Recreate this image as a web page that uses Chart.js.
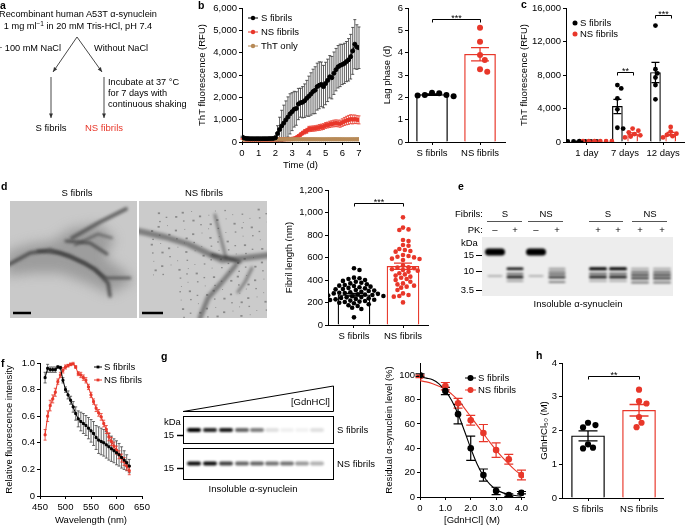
<!DOCTYPE html>
<html><head><meta charset="utf-8">
<script src="https://cdn.jsdelivr.net/npm/chart.js@4.4.1/dist/chart.umd.min.js"></script>
<style>
body{margin:0;background:#fff;}
#root{position:relative;width:685px;height:525px;overflow:hidden;background:#fff;font-family:"Liberation Sans",Arial,sans-serif;color:#000;}
.t{position:absolute;white-space:nowrap;line-height:1;font-size:9.5px;}
canvas{position:absolute;}
</style></head><body><div id="root"></div>
<script>
// ---------------- DATA ----------------
// b (left): ThT kinetics
const TIME=[0,0.125,0.25,0.375,0.5,0.625,0.75,0.875,1,1.125,1.25,1.375,1.5,1.625,1.75,1.875,2,2.125,2.25,2.375,2.5,2.625,2.75,2.875,3,3.125,3.25,3.375,3.5,3.625,3.75,3.875,4,4.125,4.25,4.375,4.5,4.625,4.75,4.875,5,5.125,5.25,5.375,5.5,5.625,5.75,5.875,6,6.125,6.25,6.375,6.5,6.625,6.75,6.875,7];
const S_RFU=[230,180,160,155,150,150,148,150,150,148,150,150,150,152,155,160,
 190,380,560,720,850,990,1120,1260,1360,1470,1500,1700,1760,1780,1850,1960,
 2050,2150,2260,2320,2480,2540,2580,2480,2620,2760,2920,2880,3080,3240,3370,3430,
 3470,3520,3600,3680,3820,4080,4380,4250,4220];
const S_RFU_ERR=[30,30,25,20,20,20,20,20,20,20,20,20,20,20,20,25,
 80,350,550,700,800,850,900,900,850,800,750,700,650,700,750,800,
 900,950,1000,1050,1050,1050,1000,950,950,950,950,950,950,950,950,950,
 900,900,900,950,1000,1050,1100,1000,930];
const NS_RFU=[140,120,110,105,105,105,105,105,105,105,105,105,105,105,105,105,
 110,115,118,120,122,125,128,130,140,160,200,260,330,400,460,500,
 580,590,600,610,630,650,670,690,740,760,790,810,830,840,830,820,
 870,920,960,990,1020,1010,1020,1000,990];
const NS_RFU_ERR=[20,15,10,10,10,10,10,10,10,10,10,10,10,10,10,10,
 10,10,10,10,10,10,15,15,20,30,40,50,70,80,100,110,
 120,120,120,120,120,130,130,130,130,130,140,140,150,150,150,160,
 170,180,190,200,200,200,190,180,180];
const THT_RFU=[125,122,121,120,120,120,120,120,120,120,120,120,120,120,120,120,
 120,120,120,120,120,120,120,120,120,121,121,121,121,121,121,121,
 121,121,121,121,121,121,121,121,122,122,122,122,122,122,122,122,
 122,122,122,122,122,122,122,122,122];
const B1_XTICKS=[0,1,2,3,4,5,6,7];
const B1_YTICKS=[0,1000,2000,3000,4000,5000,6000];
const B1_YLABELS=['0','1,000','2,000','3,000','4,000','5,000','6,000'];
// b (right): lag phase
const GROUPS=['S fibrils','NS fibrils'];
const LAG_MEAN=[2.12,3.93];
const LAG_SEM=[0.03,0.3];
const LAG_S=[2.08,2.2,2.1,2.18,2.05,2.1];
const LAG_NS=[5.12,4.49,3.9,3.67,3.26,3.15];
const LAG_YTICKS=[0,1,2,3,4,5,6];
// c: ThT at days
const C_CATS=['1 day','7 days','12 days'];
const C_S_MEAN=[80,4250,8300];
const C_S_SEM=[15,850,1200];
const C_NS_MEAN=[100,950,950];
const C_NS_SEM=[10,150,200];
const C_S_DOTS=[[70,80,90,75,85,80],[6400,6800,5200,3900,1700,1600],[13900,8700,8200,7700,6800,5100]];
const C_NS_DOTS=[[90,100,110,100,95,105],[1600,1350,1150,950,800,650,550],[1800,1250,1000,850,700,550]];
const C_YTICKS=[0,4000,8000,12000,16000];
const C_YLABELS=['0','4,000','8,000','12,000','16,000'];
// d: fibril length
const D_MEAN=[268,522];
const D_SEM=[12,28];
const D_S=[504,489,421,415,409,400,392,385,376,370,362,356,350,347,341,335,330,326,320,317,311,306,302,296,291,287,284,281,277,273,270,267,262,258,255,252,248,246,241,237,232,228,225,222,217,213,208,204,198,193,184,176,169,154,142,68];
const D_NS=[957,866,850,844,755,746,711,705,676,667,658,652,622,613,607,601,590,587,578,530,513,510,504,495,489,483,474,460,450,439,430,420,409,400,385,370,361,350,341,332,311,281,267,258,252,201];
const D_YTICKS=[0,200,400,600,800,1000,1200];
const D_YLABELS=['0','200','400','600','800','1,000','1,200'];
// f: emission spectra
const F_WL=[460,465,470,475,480,485,490,495,500,505,510,515,520,525,530,535,540,545,550,555,560,565,570,575,580,585,590,595,600,605,610,615,620,625];
const F_S=[0.89,0.96,0.95,0.95,0.95,0.97,0.965,0.87,0.80,0.76,0.72,0.67,0.62,0.58,0.56,0.545,0.53,0.51,0.49,0.47,0.44,0.42,0.41,0.40,0.385,0.37,0.355,0.34,0.325,0.31,0.29,0.27,0.25,0.225];
const F_S_ERR=[0.04,0.03,0.02,0.02,0.02,0.01,0.01,0.02,0.02,0.03,0.03,0.04,0.05,0.06,0.07,0.075,0.075,0.08,0.085,0.09,0.09,0.1,0.1,0.1,0.1,0.1,0.095,0.09,0.09,0.085,0.08,0.07,0.06,0.05];
const F_NS=[0.46,0.60,0.68,0.73,0.78,0.86,0.91,0.945,0.97,0.98,0.99,0.995,0.97,0.92,0.91,0.89,0.87,0.82,0.76,0.71,0.66,0.625,0.595,0.545,0.50,0.445,0.41,0.375,0.345,0.31,0.285,0.26,0.225,0.19];
const F_NS_ERR=[0.04,0.04,0.04,0.03,0.03,0.02,0.02,0.02,0.015,0.01,0.01,0.01,0.01,0.015,0.02,0.02,0.02,0.02,0.02,0.02,0.025,0.025,0.025,0.025,0.03,0.03,0.03,0.03,0.03,0.03,0.03,0.03,0.03,0.03];
const F_XTICKS=[450,500,550,600,650];
const F_YTICKS=[0,0.2,0.4,0.6,0.8,1.0];
const F_YLABELS=['0','0.2','0.4','0.6','0.8','1.0'];
// g: GdnHCl denaturation
const G_CONC=[0,1,1.5,2,2.5,3,3.5,4];
const G_S=[100,87,68,40,18,5,1.5,3.5];
const G_S_ERR=[1,3,8,10,5,3,1,1];
const G_NS=[99,91,77,63,52.5,38.5,31,18];
const G_NS_ERR=[1,3,4,4,7,6,4,4];
const G_FIT_X=[0,0.25,0.5,0.75,1,1.25,1.5,1.75,2,2.25,2.5,2.75,3,3.25,3.5,3.75,4];
const G_FIT_S=[98.6,97.6,96.2,92.8,87.1,79.3,68.1,54.4,40.0,27.1,17.3,10.6,6.2,3.6,2.1,1.2,0.7];
const G_FIT_NS=[95.5,94.5,93.0,91.0,88.5,84.5,79.5,73.0,66.0,59.0,52.0,45.0,38.5,32.5,27.0,22.0,18.0];
const G_XTICKS=[0,1,2,3,4];
const G_XLABELS=['0','1.0','2.0','3.0','4.0'];
const G_YTICKS=[0,20,40,60,80,100];
// h: GdnHCl50
const H_MEAN=[1.84,2.6];
const H_SEM=[0.15,0.17];
const H_S=[2.09,2.23,2.16,1.47,1.59,1.49];
const H_NS=[3.21,2.8,2.87,2.1,2.23,2.4];
const H_YTICKS=[0,1,2,3,4];
// gels (relative band intensities)
const GEL_G_S=[1,0.85,0.9,0.6,0.5,0.12,0.06,0.05,0.12];
const GEL_G_NS=[0.95,0.95,0.75,0.6,0.6,0.55,0.55,0.4,0.3];

// ---------------- HELPERS ----------------
const RED='#e8372a', BLK='#000', BROWN='#b78a57';
const root=document.getElementById('root');
Chart.defaults.font.family='"Liberation Sans", Arial, sans-serif';
Chart.defaults.font.size=9.5;
Chart.defaults.color='#000';

function T(x,y,s,o={}){
  const el=document.createElement('div'); el.className='t'; el.innerHTML=s;
  const ax=o.a==='c'?'-50%':o.a==='r'?'-100%':'0';
  el.style.left=x+'px'; el.style.top=y+'px';
  el.style.transform=`translate(${ax},-50%)`;
  if(o.size) el.style.fontSize=o.size+'px';
  if(o.bold) el.style.fontWeight='bold';
  if(o.color) el.style.color=o.color;
  root.appendChild(el);
}
const deco=document.createElement('canvas'); deco.width=685; deco.height=525;
deco.style.cssText='left:0;top:0;width:685px;height:525px';
root.appendChild(deco);
const d=deco.getContext('2d');

const PAD={left:2,top:8,right:12,bottom:2};
function mkCanvas(A,yW,xH){
  const w=Math.round(A.r-A.l+yW+PAD.left+PAD.right), h=Math.round(A.b-A.t+xH+PAD.top+PAD.bottom);
  const c=document.createElement('canvas'); c.width=w; c.height=h;
  c.style.cssText=`left:${A.l-yW-PAD.left}px;top:${A.t-PAD.top}px;width:${w}px;height:${h}px`;
  root.appendChild(c); return c;
}
function yAxis(min,max,ticks,labels,title,yW){
  return {type:'linear',min,max,position:'left',
    afterFit(s){s.width=yW;},
    afterBuildTicks(s){s.ticks=ticks.map(v=>({value:v}));},
    ticks:{callback:(v,i)=>labels?labels[i]:String(ticks[i]),padding:2,color:'#000',autoSkip:false},
    grid:{drawOnChartArea:false,drawTicks:true,tickLength:3,color:'#000',lineWidth:1,offset:false},
    border:{display:true,color:'#000',width:1},
    title:{display:!!title,text:title,color:'#000',padding:0}};
}
function xAxis(min,max,ticks,labels,title,xH){
  return {type:'linear',min,max,position:'bottom',offset:false,
    afterFit(s){s.height=xH;},
    afterBuildTicks(s){s.ticks=ticks.map(v=>({value:v}));},
    ticks:{callback:(v,i)=>labels?labels[i]:String(ticks[i]),padding:3,color:'#000',autoSkip:false,maxRotation:0,minRotation:0},
    grid:{drawOnChartArea:false,drawTicks:true,tickLength:3,color:'#000',lineWidth:1,offset:false},
    border:{display:true,color:'#000',width:1},
    title:{display:!!title,text:title,color:'#000',padding:0}};
}
function opts(x,y){
  return {responsive:false,animation:false,events:[],
    layout:{padding:PAD,autoPadding:false},
    plugins:{legend:{display:false},tooltip:{enabled:false}},
    scales:{x,y}};
}
function drawErr(chart,behind){
  const ctx=chart.ctx, ys=chart.scales.y;
  chart.data.datasets.forEach((ds,i)=>{
    if(!ds.errors||!!ds.errBehind!==behind) return;
    const meta=chart.getDatasetMeta(i);
    ctx.save(); ctx.lineWidth=ds.errWidth||1;
    meta.data.forEach((el,j)=>{
      const e=ds.errors[j]; if(!e) return;
      const v=ds.data[j].y, x=el.x;
      const y1=ys.getPixelForValue(v+e), y2=ys.getPixelForValue(v-e), c=(ds.capW||4)/2;
      ctx.strokeStyle=Array.isArray(ds.errColor)?ds.errColor[j]:(ds.errColor||ds.borderColor);
      ctx.beginPath(); ctx.moveTo(x,y1); ctx.lineTo(x,y2);
      ctx.moveTo(x-c,y1); ctx.lineTo(x+c,y1); ctx.moveTo(x-c,y2); ctx.lineTo(x+c,y2);
      ctx.stroke();
    });
    ctx.restore();
  });
}
const errPlugin={id:'errbars',beforeDatasetsDraw(c){drawErr(c,true);},afterDatasetsDraw(c){drawErr(c,false);}};
function sigPlugin(items){
  return {id:'sig',afterDatasetsDraw(chart){
    const ctx=chart.ctx, xs=chart.scales.x, ys=chart.scales.y;
    items.forEach(([x1,x2,y,lab])=>{
      const a=Math.round(xs.getPixelForValue(x1))+0.5, b=Math.round(xs.getPixelForValue(x2))+0.5, p=Math.round(ys.getPixelForValue(y))+0.5;
      ctx.save(); ctx.strokeStyle='#000'; ctx.lineWidth=1;
      ctx.beginPath(); ctx.moveTo(a,p+3); ctx.lineTo(a,p); ctx.lineTo(b,p); ctx.lineTo(b,p+3); ctx.stroke();
      ctx.fillStyle='#000'; ctx.font='9px "Liberation Sans", Arial'; ctx.textAlign='center'; ctx.textBaseline='alphabetic';
      ctx.fillText(lab,(a+b)/2,p+1);
      ctx.restore();
    });
  }};
}
// beeswarm layout for dot overlays
function swarm(vals,cx,pxX,pxY,r){
  const idx=vals.map((v,i)=>i).sort((a,b)=>vals[b]-vals[a]);
  const placed=[], out=new Array(vals.length);
  for(const i of idx){
    const py=vals[i]*pxY; let best=0;
    for(let k=0;k<80;k++){
      const off=(k===0?0:(k%2?1:-1)*Math.ceil(k/2))*r*0.8;
      if(placed.every(p=>(p[0]-off)**2+(p[1]-py)**2>=(1.9*r)**2)){best=off;break;}
    }
    placed.push([best,py]); out[i]=cx+best/pxX;
  }
  return out;
}
function dots(vals,cx,pxX,pxY,r){const xs=swarm(vals,cx,pxX,pxY,r);return vals.map((v,i)=>({x:xs[i],y:v}));}
function xy(xs,ys){return xs.map((x,i)=>({x,y:ys[i]}));}

// ---------------- CHART b (kinetics) ----------------
{
  const A={l:242,t:8,r:359,b:142}, yW=45, xH=29;
  new Chart(mkCanvas(A,yW,xH),{type:'line',
    data:{datasets:[
      {data:xy(TIME,S_RFU),borderColor:BLK,backgroundColor:BLK,pointRadius:2,borderWidth:1,errors:S_RFU_ERR,errBehind:true,errColor:'#333',errWidth:0.8,capW:3},
      {data:xy(TIME,THT_RFU),borderColor:BROWN,backgroundColor:BROWN,pointRadius:1.8,borderWidth:1},
      {data:xy(TIME,NS_RFU),borderColor:RED,backgroundColor:RED,pointRadius:1.8,borderWidth:1,errors:NS_RFU_ERR,errBehind:true,errColor:RED,errWidth:0.8,capW:3},
    ]},
    options:opts(xAxis(0,7,B1_XTICKS,null,'Time (d)',xH),yAxis(0,6000,B1_YTICKS,B1_YLABELS,'ThT fluorescence (RFU)',yW)),
    plugins:[errPlugin]});
}
// ---------------- CHART b (lag phase) ----------------
{
  const A={l:408,t:8,r:505,b:142}, yW=26, xH=20, min=-0.5, max=1.52;
  const pxX=(A.r-A.l)/(max-min), pxY=(A.b-A.t)/6;
  const pts=[...dots(LAG_S,0,pxX,pxY,3),...dots(LAG_NS,1,pxX,pxY,3)];
  const cols=[...LAG_S.map(()=>BLK),...LAG_NS.map(()=>RED)];
  new Chart(mkCanvas(A,yW,xH),{type:'bar',
    data:{datasets:[
      {type:'scatter',data:pts,pointRadius:3,backgroundColor:cols,borderWidth:0},
      {type:'bar',data:xy([0,1],LAG_MEAN),backgroundColor:'#fff',borderColor:[BLK,RED],borderWidth:1.3,barThickness:31,grouped:false,errors:LAG_SEM,errColor:[BLK,RED],errWidth:1.3,capW:18},
    ]},
    options:opts(xAxis(min,max,[0,1],GROUPS,'',xH),yAxis(0,6,LAG_YTICKS,null,'Lag phase (d)',yW)),
    plugins:[errPlugin,sigPlugin([[0,1,5.5,'***']])]});
}
// ---------------- CHART c ----------------
{
  const A={l:566,t:8,r:684,b:142}, yW=47, xH=21, min=-0.55, max=2.55;
  const pxX=(A.r-A.l)/(max-min), pxY=(A.b-A.t)/16000;
  let pts=[],cols=[];
  C_S_DOTS.forEach((arr,k)=>{pts.push(...dots(arr,k-0.2,pxX,pxY,2.4));cols.push(...arr.map(()=>BLK));});
  C_NS_DOTS.forEach((arr,k)=>{pts.push(...dots(arr,k+0.2,pxX,pxY,2.4));cols.push(...arr.map(()=>RED));});
  new Chart(mkCanvas(A,yW,xH),{type:'bar',
    data:{datasets:[
      {type:'scatter',data:pts,pointRadius:2.4,backgroundColor:cols,borderWidth:0},
      {type:'bar',data:xy([-0.2,0.8,1.8],C_S_MEAN),backgroundColor:'#fff',borderColor:BLK,borderWidth:1.2,barThickness:10,grouped:false,errors:C_S_SEM,errColor:BLK,errWidth:1.2,capW:8},
      {type:'bar',data:xy([0.2,1.2,2.2],C_NS_MEAN),backgroundColor:'#fff',borderColor:RED,borderWidth:1.2,barThickness:10,grouped:false,errors:C_NS_SEM,errColor:RED,errWidth:1.2,capW:8},
    ]},
    options:opts(xAxis(min,max,[0,1,2],C_CATS,'',xH),yAxis(0,16000,C_YTICKS,C_YLABELS,'ThT fluorescence (RFU)',yW)),
    plugins:[errPlugin,sigPlugin([[0.8,1.2,8300,'**'],[1.8,2.2,15200,'***']])]});
}
// ---------------- CHART d ----------------
{
  const A={l:328,t:190,r:428,b:325}, yW=44, xH=20, min=-0.53, max=1.51;
  const pxX=(A.r-A.l)/(max-min), pxY=(A.b-A.t)/1200;
  const pts=[...dots(D_S,0,pxX,pxY,2.3),...dots(D_NS,1,pxX,pxY,2.3)];
  const cols=[...D_S.map(()=>BLK),...D_NS.map(()=>RED)];
  new Chart(mkCanvas(A,yW,xH),{type:'bar',
    data:{datasets:[
      {type:'scatter',data:pts,pointRadius:2.3,backgroundColor:cols,borderWidth:0},
      {type:'bar',data:xy([0,1],D_MEAN),backgroundColor:'#fff',borderColor:[BLK,RED],borderWidth:1.3,barThickness:32,grouped:false,errors:D_SEM,errColor:[BLK,RED],errWidth:1.3,capW:18},
    ]},
    options:opts(xAxis(min,max,[0,1],GROUPS,'',xH),yAxis(0,1200,D_YTICKS,D_YLABELS,'Fibril length (nm)',yW)),
    plugins:[errPlugin,sigPlugin([[0,1,1085,'***']])]});
}
// ---------------- CHART f ----------------
{
  const A={l:40,t:363,r:142,b:496}, yW=36, xH=30;
  new Chart(mkCanvas(A,yW,xH),{type:'scatter',
    data:{datasets:[
      {data:xy(F_WL,F_S),showLine:true,borderColor:BLK,backgroundColor:BLK,pointStyle:'rect',pointRadius:1.4,borderWidth:1,errors:F_S_ERR,errBehind:true,errColor:'#444',errWidth:0.8,capW:3},
      {data:xy(F_WL,F_NS),showLine:true,borderColor:RED,backgroundColor:RED,pointStyle:'rect',pointRadius:1.4,borderWidth:1,errors:F_NS_ERR,errBehind:true,errColor:RED,errWidth:0.8,capW:3},
    ]},
    options:opts(xAxis(450,650,F_XTICKS,null,'Wavelength (nm)',xH),yAxis(0,1,F_YTICKS,F_YLABELS,'Relative fluorescence intensity',yW)),
    plugins:[errPlugin]});
}
// ---------------- CHART g ----------------
{
  const A={l:420,t:363,r:523.5,b:497}, yW=36, xH=29;
  new Chart(mkCanvas(A,yW,xH),{type:'scatter',
    data:{datasets:[
      {data:xy(G_CONC,G_S),pointRadius:3.3,backgroundColor:BLK,borderWidth:0,errors:G_S_ERR,errBehind:true,errColor:BLK,errWidth:1.2,capW:9},
      {data:xy(G_CONC,G_NS),pointRadius:3.3,backgroundColor:RED,borderWidth:0,errors:G_NS_ERR,errBehind:true,errColor:RED,errWidth:1.2,capW:9},
      {data:xy(G_FIT_X,G_FIT_S),showLine:true,pointRadius:0,borderColor:BLK,borderWidth:1.1,tension:0.4},
      {data:xy(G_FIT_X,G_FIT_NS),showLine:true,pointRadius:0,borderColor:RED,borderWidth:1.1,tension:0.4},
    ]},
    options:opts(xAxis(0,4.1,G_XTICKS,G_XLABELS,'[GdnHCl] (M)',xH),yAxis(0,110,G_YTICKS,null,'Residual α-synuclein level (%)',yW)),
    plugins:[errPlugin]});
}
// ---------------- CHART h ----------------
{
  const A={l:562,t:363,r:663,b:498}, yW=23, xH=20, min=-0.51, max=1.47;
  const pxX=(A.r-A.l)/(max-min), pxY=(A.b-A.t)/4;
  const pts=[...dots(H_S,0,pxX,pxY,3.1),...dots(H_NS,1,pxX,pxY,3.1)];
  const cols=[...H_S.map(()=>BLK),...H_NS.map(()=>RED)];
  new Chart(mkCanvas(A,yW,xH),{type:'bar',
    data:{datasets:[
      {type:'scatter',data:pts,pointRadius:3.1,backgroundColor:cols,borderWidth:0},
      {type:'bar',data:xy([0,1],H_MEAN),backgroundColor:'#fff',borderColor:[BLK,RED],borderWidth:1.3,barThickness:33,grouped:false,errors:H_SEM,errColor:[BLK,RED],errWidth:1.3,capW:19},
    ]},
    options:opts(xAxis(min,max,[0,1],GROUPS,'',xH),yAxis(0,4,H_YTICKS,null,'GdnHCl₅₀ (M)',yW)),
    plugins:[errPlugin,sigPlugin([[0,1,3.6,'**']])]});
}

// ---------------- DECORATION (diagram, TEM, gels, legends) ----------------
function line(x1,y1,x2,y2,c='#000',w=1){d.save();d.strokeStyle=c;d.lineWidth=w;d.beginPath();d.moveTo(x1,y1);d.lineTo(x2,y2);d.stroke();d.restore();}
function arrow(x1,y1,x2,y2){
  line(x1,y1,x2,y2,'#333',0.9);
  const a=Math.atan2(y2-y1,x2-x1), L=5;
  d.save();d.fillStyle='#333';d.beginPath();d.moveTo(x2,y2);
  d.lineTo(x2-L*Math.cos(a-0.4),y2-L*Math.sin(a-0.4));d.lineTo(x2-L*Math.cos(a+0.4),y2-L*Math.sin(a+0.4));d.closePath();d.fill();d.restore();
}
arrow(77,37,53,72); arrow(77,37,102,72); arrow(51,77,51,118); arrow(104,77,104,118);

function poly(p){d.beginPath();p.forEach(([x,y],i)=>i?d.lineTo(x,y):d.moveTo(x,y));d.closePath();}
function path(p){d.beginPath();p.forEach(([x,y],i)=>i?d.lineTo(x,y):d.moveTo(x,y));}
// TEM S (decorative micrograph sketch)
d.save();d.beginPath();d.rect(10,201,127,117);d.clip();
d.fillStyle='#c9c9c9';d.fillRect(10,201,127,117);
d.filter='blur(6px)';d.fillStyle='rgba(120,120,120,0.55)';
poly([[6,252],[30,244],[53,241],[70,229],[100,224],[115,240],[104,257],[124,271],[134,281],[110,294],[87,283],[60,273],[33,273],[6,276]]);d.fill();
d.filter='blur(1.6px)';d.lineCap='round';d.lineJoin='round';
d.strokeStyle='rgba(55,55,55,0.75)';d.lineWidth=3.5;
path([[8,265],[30,253],[50,250],[70,256],[95,269],[108,283],[110,296]]);d.stroke();
d.lineWidth=2.5;path([[38,251],[60,253],[85,263],[106,278],[130,278]]);d.stroke();
d.lineWidth=3;path([[66,241],[90,243],[107,254]]);d.stroke();
d.strokeStyle='rgba(70,70,70,0.75)';d.lineWidth=4;path([[72,238],[100,222],[126,209]]);d.stroke();
d.lineWidth=2;path([[75,245],[98,234],[112,238]]);d.stroke();
d.restore();
// TEM NS
d.save();d.beginPath();d.rect(139,201,128,117);d.clip();
d.fillStyle='#cbcbcb';d.fillRect(139,201,128,117);
d.fillStyle='rgba(85,85,85,0.55)';
for(let k=1;k<170;k++){
  const fx=(k*0.7548777)%1, fy=(k*0.5698403)%1;
  const px=150+fx*117, py=208+fy*110;
  if(px<175&&py>275) continue;
  const s=1+((k*7)%3)*0.6; d.fillRect(px,py,s,s*0.8);
}
d.filter='blur(1.5px)';d.lineCap='round';d.lineJoin='round';
d.strokeStyle='rgba(75,75,75,0.6)';d.lineWidth=6;
path([[138,231],[165,237],[188,244],[205,252],[222,260],[245,258],[270,255]]);d.stroke();
d.lineWidth=3;path([[215,215],[220,235],[226,258]]);d.stroke();
d.lineWidth=5;path([[236,265],[222,282],[208,298],[200,318]]);d.stroke();
d.lineWidth=3;path([[252,268],[245,282],[238,292]]);d.stroke();
d.strokeStyle='rgba(45,45,45,0.75)';d.lineWidth=3;path([[212,255],[228,258],[240,262]]);d.stroke();
d.restore();
// scale bars
line(13,313,31,313,'#000',2.5); line(142,313,163,313,'#000',2.5);

// gel e
function band(cx,cy,w,h,a,blur=0.8){d.save();d.filter=`blur(${blur}px)`;d.fillStyle=`rgba(0,0,0,${a})`;d.beginPath();d.roundRect(cx-w/2,cy-h/2,w,h,h/2);d.fill();d.restore();}
d.fillStyle='#ededed';d.fillRect(482,237,191,59);
const LE=[495,515,536,557,598,618,640,662];
band(LE[0],252,20,7,1,0.9); band(LE[2],252,20,7,1,0.9);
band(LE[0],276,15,2,0.25); band(LE[2],276,15,2,0.25);
[[268.7,2.5,0.95],[273.7,2,0.55],[277,3,0.85],[281,2,0.3]].forEach(([y,h,a])=>band(LE[1],y,17,h,a));
[[268.7,2,0.35],[271.7,2,0.45],[274.3,2,0.6],[277.3,2.5,0.75],[282,2,0.45]].forEach(([y,h,a])=>band(LE[3],y,17,h,a));
[4,5].forEach(k=>[[268.7,3,1],[273.7,2,0.6],[277,3,0.85],[281,2,0.25]].forEach(([y,h,a])=>band(LE[k],y,18,h,a)));
[6,7].forEach(k=>[[268.7,2,0.3],[272,2,0.55],[275,2.5,0.7],[278.3,2.5,0.7],[282.5,2,0.5]].forEach(([y,h,a])=>band(LE[k],y,18,h,a)));
[[487,522],[528,563],[589,623],[632,667]].forEach(([a,b])=>line(a,221.5,b,221.5,'#555',1));
[255,271,290].forEach(y=>line(476,y+0.5,482,y+0.5,'#000',1));

// gel g
d.save();d.strokeStyle='#000';d.lineWidth=1;
d.beginPath();d.moveTo(183,411.5);d.lineTo(333.5,386);d.lineTo(333.5,411.5);d.closePath();d.stroke();
d.strokeRect(183.5,416.5,150,27);d.strokeRect(183.5,448.5,150,31);d.restore();
const LG=[194,210,226,242,257,272,287,302,317];
GEL_G_S.forEach((a,i)=>band(LG[i],430,14,4,a,1));
GEL_G_NS.forEach((a,i)=>band(LG[i],463.5,14,4,a,1));
line(177,435.5,183,435.5,'#000',1.5); line(177,468.5,183,468.5,'#000',1.5);

// legend markers
function legLine(x1,x2,y,c,r,sq){line(x1,y,x2,y,c,1);d.fillStyle=c;d.beginPath();if(sq)d.rect((x1+x2)/2-r,y-r,2*r,2*r);else d.arc((x1+x2)/2,y,r,0,7);d.fill();}
legLine(248,258,18,BLK,2.2); legLine(248,258,32,RED,2.2); legLine(248,258,46,BROWN,2.2);
d.fillStyle=BLK;d.beginPath();d.arc(575,23,2.5,0,7);d.fill();
d.fillStyle=RED;d.beginPath();d.arc(575,34,2.5,0,7);d.fill();
legLine(94,102,367,BLK,1.4,true); legLine(94,102,380,RED,1.4,true);
legLine(465,476,378,BLK,3); legLine(465,476,390,RED,3);

// ---------------- TEXT ----------------
T(0,5,'a',{bold:true,size:10.5}); T(198,5,'b',{bold:true,size:10.5}); T(521,4,'c',{bold:true,size:10.5});
T(1,186,'d',{bold:true,size:10.5}); T(458,186,'e',{bold:true,size:10.5});
T(1,363,'f',{bold:true,size:10.5}); T(161,356,'g',{bold:true,size:10.5}); T(536,355,'h',{bold:true,size:10.5});
T(78,15,'Recombinant human A53T α-synuclein',{a:'c',size:9.2});
T(78,26,'1 mg ml<sup style="font-size:6.5px;vertical-align:3px">−1</sup> in 20 mM Tris-HCl, pH 7.4',{a:'c',size:9.2});
T(61,49,'+ 100 mM NaCl',{a:'r',size:9.2}); T(94,49,'Without NaCl',{size:9.2});
T(108,83,'Incubate at 37 °C',{size:9.2}); T(108,94,'for 7 days with',{size:9.2}); T(108,105,'continuous shaking',{size:9.2});
T(51,128,'S fibrils',{a:'c'}); T(104,128,'NS fibrils',{a:'c',color:RED});
T(261,18,'S fibrils'); T(261,32,'NS fibrils'); T(261,46,'ThT only');
T(580,23,'S fibrils'); T(580,34,'NS fibrils');
T(77,193,'S fibrils',{a:'c'}); T(204,193,'NS fibrils',{a:'c'});
T(483,214,'Fibrils:',{a:'r'}); T(505,214,'S',{a:'c'}); T(546,214,'NS',{a:'c'}); T(608,214,'S',{a:'c'}); T(650,214,'NS',{a:'c'});
T(483,230,'PK:',{a:'r'});
['–','+','–','+','+','+','+','+'].forEach((s,i)=>T(LE[i],230,s,{a:'c'}));
T(461,243,'kDa'); T(474,255,'15',{a:'r'}); T(474,271,'10',{a:'r'}); T(474,290,'3.5',{a:'r'});
T(578,304,'Insoluble α-synuclein',{a:'c'});
T(104,367,'S fibrils'); T(104,380,'NS fibrils');
T(330,402,'[GdnHCl]',{a:'r'}); T(337,430,'S fibrils'); T(337,464,'NS fibrils');
T(164,422,'kDa'); T(174,435,'15',{a:'r'}); T(174,468,'15',{a:'r'});
T(253,489,'Insoluble α-synuclein',{a:'c'});
T(478,378,'S fibrils'); T(478,390,'NS fibrils');
</script></body></html>
